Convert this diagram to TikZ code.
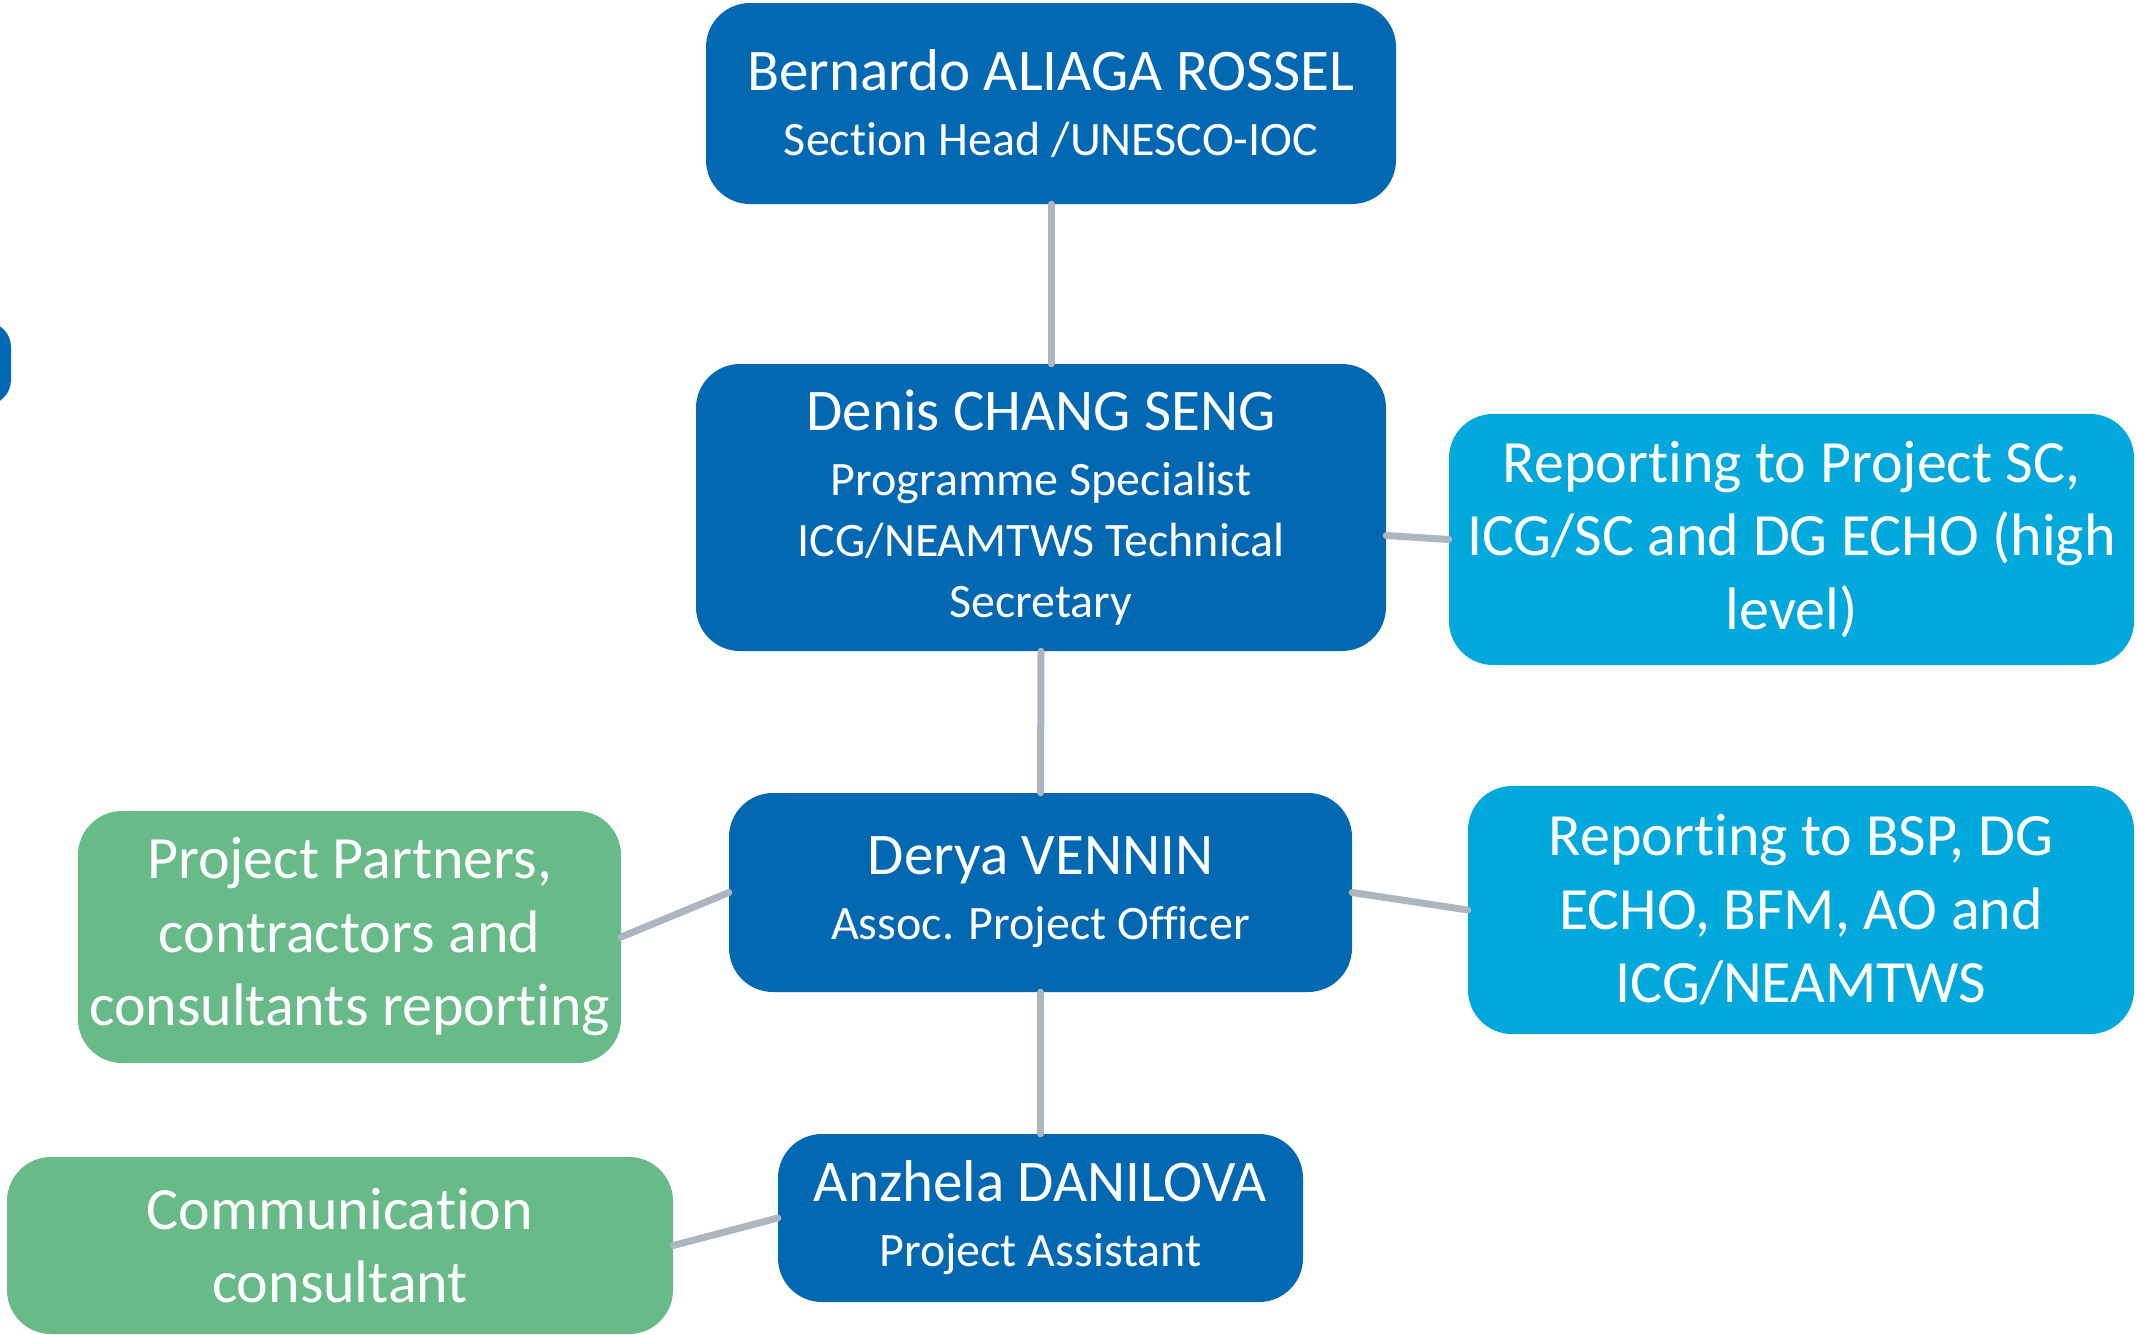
\documentclass[tikz,border=0pt]{standalone}
\usepackage{fontspec}
\setmainfont[Ligatures=NoCommon]{Carlito}
\definecolor{darkblue}{HTML}{0268B2}
\definecolor{lightblue}{HTML}{00A8DB}
\definecolor{softgreen}{HTML}{68BB89}
\definecolor{linkgray}{HTML}{ADB6BE}
\begin{document}
\begin{tikzpicture}[x=1pt,y=-1pt,
  box/.style={rectangle, rounded corners=44pt, inner sep=0pt, text=white,
    align=center, anchor=center},
  staff/.style={box, fill=darkblue, font=\fontsize{48}{61}\selectfont},
  report/.style={box, fill=lightblue, font=\fontsize{60}{73.5}\selectfont},
  partner/.style={box, fill=softgreen, font=\fontsize{60}{73.5}\selectfont},
  link/.style={draw=linkgray, line width=7pt, line cap=round}]
\useasboundingbox (0,0) rectangle (2137,1334);
\newcommand{\pname}[1]{{\fontsize{59}{61}\selectfont #1}}

% people
\node[staff, minimum width=690pt, minimum height=201pt] (bern) at (1051,103.5)
  {\pname{Bernardo ALIAGA ROSSEL}\\[4pt]Section Head /UNESCO-IOC};
\node[staff, minimum width=690pt, minimum height=287pt] (denis) at (1041,507.5)
  {\pname{Denis CHANG SENG}\\[4pt]Programme Specialist\\ICG/NEAMTWS Technical\\Secretary};
\node[staff, minimum width=623pt, minimum height=199pt] (derya) at (1040.5,892.5)
  {\pname{Derya VENNIN}\\[4pt]Assoc. Project Officer};
\node[staff, minimum width=525pt, minimum height=168pt] (anz) at (1040.5,1218)
  {\pname{Anzhela DANILOVA}\\[4pt]Project Assistant};
\node[staff, rounded corners=25pt, minimum width=102pt, minimum height=83pt] (stub) at (-40,363.5) {};

% reporting lines
\node[report, minimum width=685pt, minimum height=251pt] (repsc) at (1791.5,539.5)
  {Reporting to Project SC,\\ICG/SC and DG ECHO (high\\level)};
\node[report, minimum width=666pt, minimum height=248pt] (repbsp) at (1801,910)
  {Reporting to BSP, DG\\ECHO, BFM, AO and\\ICG/NEAMTWS};

% partners
\node[partner, minimum width=543pt, minimum height=252pt] (pp) at (349.5,937)
  {Project Partners,\\contractors and\\consultants reporting};
\node[partner, minimum width=666pt, minimum height=177pt] (comm) at (340,1245.5)
  {Communication\\consultant};

% connectors
\draw[link] (bern.south) -- (bern.south |- denis.north);
\draw[link] (denis.south) -- (derya.north);
\draw[link] (derya.south) -- (anz.north);
\draw[link] ([yshift=-28pt]denis.east) -- (repsc.west);
\draw[link] (derya.east) -- (repbsp.west);
\draw[link] (pp.east) -- (derya.west);
\draw[link] (comm.east) -- (anz.west);
\end{tikzpicture}
\end{document}
